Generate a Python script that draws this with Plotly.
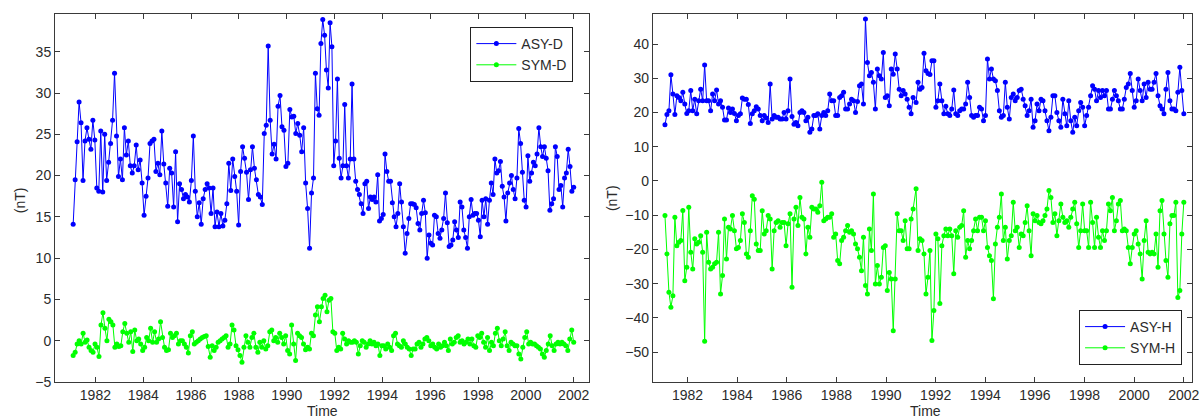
import numpy as np
import plotly.graph_objects as go

# ---------------- data (monthly values) ----------------
# Left panel: ASY-D / SYM-D ; right panel: ASY-H / SYM-H
asy_d_a = [14.1, 19.5, 24.1, 28.9, 26.4, 19.4, 24.2, 25.8, 24.4, 23.2, 26.7, 24.3,
           18.5, 18.1, 25.4, 18.0, 25.0, 19.4, 21.6, 23.9, 26.7, 32.4, 24.8, 19.9, 22.0, 19.5,
           25.8, 22.5, 24.2, 21.2, 20.3, 21.2, 23.7, 20.7, 21.9, 19.1,
           15.2, 17.5, 19.7, 23.9, 24.2, 24.4, 20.5, 21.5, 20.1, 25.4, 21.4, 19.1, 16.3,
           20.9, 20.3, 16.2, 22.9, 14.4, 19.0, 18.3, 17.2, 17.7, 17.4, 16.8,
           19.4, 24.8, 18.1, 15.0, 16.7, 14.1, 17.2, 18.3, 19.0, 18.5, 15.4, 18.5,
           13.8, 15.6, 13.8, 15.4, 13.9, 14.6, 16.6, 21.5, 18.2, 22.0, 19.9, 18.1,
           14.0, 20.5, 23.5, 22.1, 20.4, 17.1, 20.7, 23.5, 20.9, 19.5, 17.7, 17.4,
           16.5, 25.1, 26.1, 35.7, 26.7, 22.6, 23.8, 22.0, 28.4, 29.7, 25.9, 25.5,
           21.1, 21.5, 28.0, 27.1, 27.2, 25.1, 26.3, 24.9, 22.9, 25.8, 19.1, 16.0,
           11.2, 17.9, 19.7]
asy_d_b = [32.4, 28.1, 27.3, 36.0, 38.9, 37.0, 32.8, 30.6, 38.5, 35.6,
           21.2, 24.2, 31.7, 22.1, 19.7, 21.2, 28.6, 21.2, 19.7, 22.0,
           31.1, 22.0, 19.3, 18.3, 17.7, 16.6, 15.4, 19.0, 19.3, 16.0,
           17.4, 17.1, 17.4, 16.8, 20.1, 14.5, 14.8, 15.3, 22.6, 20.5,
           19.3, 19.3, 16.7, 15.0, 13.8, 15.4, 19.0, 16.8, 13.8, 10.6,
           13.0, 14.8, 16.6, 16.6, 16.5, 16.1, 14.2, 13.4, 15.4, 17.0,
           15.5, 10.0, 12.8, 11.8, 11.6, 15.2, 15.0, 13.0, 12.4, 13.4,
           14.8, 17.9, 14.3, 11.4, 11.6, 12.2, 14.4, 13.4, 12.5, 16.8,
           16.2, 13.4, 12.5, 11.2, 15.0, 17.1, 15.2, 15.4, 15.4, 14.6,
           12.6, 17.0, 15.0, 17.2, 14.1, 17.0, 19.1, 17.7, 22.0, 20.3,
           20.6, 21.7, 18.7, 17.4, 14.5, 17.9, 19.1, 20.0, 18.3, 17.2,
           19.7, 25.7, 23.9, 20.4, 17.0, 16.2, 22.4, 19.3, 20.3, 21.6,
           21.2, 22.6, 25.8, 23.5, 22.3, 23.5, 22.1, 20.6, 15.8, 16.6,
           17.2, 23.5, 22.3, 18.3, 18.8, 16.2, 19.7, 20.3, 23.2, 21.1,
           18.1, 18.6]
asy_d_times = [(1981.07, 1991.12), (1991.20, 2002.0)]

sym_d_a = [-1.8, -1.4, -0.4, 0, -0.4, 0.9, -0.2, 0.1, -0.8, -1.2, -1.4,
           -0.4, -0.8, -1.9, 1.9, 3.4, 1.5, 0, 2.6, 2.3, 1.9, -0.8, -0.4,
           -0.7, -0.6, 1.1, 2.1, 0.9, -0.2, 1.1, -1.3, 1.3, 0, 0.2, -0.4,
           -1.2, -0.8, 0.4, 0, 1.5, -0.2, 1.1, -0.2, 0.2, 2.3, 0.4, -0.8,
           -1.2, -1.1, 0.9, 0.4, 0.6, 0.9, -0.4, 0, 0, -0.4, -0.8, -1.5,
           0.6, 1.1, -0.4, -0.2, 0, 0.2, 0.4, 0.5, 0.6, -0.7, -2.0, -0.6,
           -1.2, -0.8, -0.2, 0, 0.2, 0.4, 0.6, -0.8, -0.4, 1.9, 1.3, -0.6,
           -1.1, -1.8, -2.6, -0.8, 0.6, -0.2, -0.8, 0.4, 0.9, -0.8, -1.4, -0.2,
           -0.8, 0, -1.0, -0.6, 1.1, 1.3, 0, 0.4, -0.2, 0.9, 0.4, -0.4,
           0.6, -1.2, -1.6, 1.9, -0.4, -2.4, 0.9, 0.6, 0.4, -0.4, -1.1, -0.8,
           -1.0, 0.9, 0.6, 3.1, 4.1, 2.3, 4.1]
sym_d_b = [5.1, 5.5, 3.5, 4.9, 5.1, 1.1, 0.9,
           -1.2, -0.8, -1.0, 0.9, 0.2, -0.4, 0, -0.2, -0.2, 0, -0.2, -1.6,
           -0.6, 0, -0.2, -0.8, -0.4, 0, -0.4, -0.2, -0.6, -0.4, -1.8, -0.6,
           -0.6, -1.0, -0.4, -0.8, -1.2, 0.6, 0.9, -0.4, -0.6, -0.8, 0, -0.4,
           -0.8, -1.0, -1.8, -1.0, -1.0, -0.4, -0.2, -0.8, -0.4, 0.2, 0.4, 0,
           -0.6, -0.4, -0.8, -1.0, -0.4, -0.8, -0.6, -0.2, -0.6, -1.2, 0.2, -0.4,
           -0.2, 0.4, 0.6, -0.2, 0, -0.4, -0.2, 0.2, -0.4, 0.2, -0.6, -0.8,
           0.6, 0.4, 0.9, -0.2, -0.8, 0.4, -1.2, -0.2, -0.6, 0.9, 1.5, 0,
           -0.6, 0.2, 1.1, -0.6, -1.2, -0.2, -0.4, -0.6, -0.6, -1.6, -2.2, -0.8,
           0.4, 1.1, -0.4, -0.2, -0.4, -0.4, -0.6, -0.8, -1.0, -1.6, -2.0, -1.2,
           -0.4, 0.6, -0.6, -1.2, -0.4, -0.2, -0.4, -0.2, -0.4, -0.6, -1.2, 0.2, 1.3, -0.2]
sym_d_times = [(1981.07, 1991.45), (1991.52, 2002.0)]

asy_h_a = [16.4, 19.4, 20.5, 31.0, 25.4, 19.4, 24.9, 24.4, 23.4, 25.9, 22.5,
           19.7, 20.5, 26.4, 20.5, 23.9, 19.6, 23.4, 26.8, 23.4, 33.9, 23.4, 23.4,
           20.5, 25.4, 23.4, 26.6, 22.5, 23.4, 21.5, 17.8, 17.8, 21.3, 20.0, 21.0,
           19.7, 17.6, 19.1, 19.6, 24.2, 23.9, 23.9, 22.3, 16.8, 19.6, 20.5, 21.7,
           21.0, 19.1, 17.6, 19.1, 18.4, 17.1, 28.3, 18.1, 19.1, 18.6, 18.6, 18.1,
           18.1, 20.0, 18.1, 20.5, 29.8, 18.8, 16.6, 17.1, 16.1, 20.0, 20.5, 20.0,
           17.6, 18.6, 14.2, 15.2, 19.1, 19.1, 19.6, 15.2, 19.1, 20.0, 19.1, 20.5,
           25.4, 23.4, 23.4, 19.1, 19.1, 24.4, 24.9, 25.9, 21.0, 21.0, 22.5, 23.9,
           23.4, 20.0, 23.2, 27.8, 28.3, 22.5, 47.3, 34.6, 30.7, 31.7, 28.8, 21.0,
           32.7, 30.7, 29.8, 37.5, 24.4, 24.9, 22.0, 32.7, 31.2, 37.1, 32.7, 26.8,
           24.9, 26.4, 25.4, 23.9, 21.5, 19.6, 24.4]
asy_h_b = [22.9, 28.8, 26.8, 27.3, 37.3, 32.2, 31.4, 31.1, 35.1, 35.1,
           21.5, 23.4, 28.3, 23.4, 19.6, 21.8, 19.6, 19.1, 21.0, 26.6,
           19.6, 19.1, 20.5, 21.0, 21.0, 22.5, 28.8, 24.4, 19.1, 18.6,
           19.1, 19.1, 21.5, 21.0, 17.6, 19.1, 35.6, 29.8, 32.7, 29.8,
           29.3, 26.4, 20.5, 18.6, 19.1, 28.8, 21.5, 18.1, 24.4, 25.4,
           23.4, 24.4, 26.4, 26.8, 23.9, 22.0, 19.1, 20.5, 23.9, 15.7,
           17.6, 22.5, 20.5, 23.9, 23.4, 20.5, 17.6, 14.7, 18.6, 24.9,
           24.9, 20.0, 17.6, 15.7, 23.9, 19.6, 16.1, 23.4, 17.6, 14.2,
           18.6, 16.1, 20.5, 22.9, 21.5, 16.1, 19.1, 21.5, 24.9, 27.8,
           26.8, 23.4, 26.4, 24.4, 26.4, 24.9, 26.4, 21.0, 21.0, 23.9,
           26.4, 24.9, 23.4, 21.0, 21.0, 23.9, 27.3, 28.3, 31.4, 26.4,
           21.5, 23.4, 29.8, 26.4, 23.4, 28.3, 24.4, 28.8, 26.8, 26.8,
           28.8, 31.4, 24.9, 22.0, 21.0, 19.6, 26.8, 31.7, 23.4, 21.0,
           21.0, 20.5, 25.9, 33.2, 26.4, 19.6]
asy_h_times = [(1981.09, 1991.09), (1991.21, 2002.0)]

sym_h_a = [-10.1, -21.3, -32.5, -36.9, -33.5, -10.6, -18.9, -17.9, -17.4, -8.6, -29.1,
           -25.2, -7.7, -20.8, -25.7, -16.9, -18.4, -17.9, -16.0, -20.8, -46.8, -15.0, -23.7,
           -25.7, -25.2, -24.2, -23.7, -15.0, -33.0, -27.6, -11.1, -22.8, -13.5, -14.0, -10.1,
           -14.5, -19.8, -19.4, -17.4, -9.6, -12.1, -21.3, -22.3, -14.5, -4.3, -5.3, -18.4,
           -20.3, -20.3, -8.7, -15.5, -14.5, -10.1, -11.1, -25.7, -14.5, -12.1, -11.6, -13.5,
           -12.1, -12.1, -18.9, -12.5, -9.6, -31.0, -11.1, -7.7, -13.0, -4.8, -10.6, -11.1,
           -21.3, -13.5, -16.4, -7.7, -8.2, -8.2, -9.1, -7.2, -0.4, -11.6, -11.1, -10.6,
           -10.6, -9.6, -16.4, -15.5, -23.2, -24.2, -17.4, -16.4, -14.5, -13.0, -15.0, -14.5,
           -15.5, -18.4, -19.8, -22.3, -26.2, -16.4, -30.5, -33.0, -14.0, -20.3, -3.8, -30.1,
           -24.7, -30.1, -28.1, -19.4, -18.9, -32.0, -26.7, -28.6, -43.7, -28.6, -9.6, -14.5,
           -14.5, -17.4, -11.6, -19.8, -19.8, -11.1, -8.2]
sym_h_b = [-2.3, -20.3, -16.9, -17.4, -21.3, -33.0, -28.1, -20.3, -46.6, -37.8,
           -15.5, -16.9, -35.8, -18.9, -16.0, -14.0, -16.0, -14.0, -16.0, -27.1,
           -14.5, -16.4, -13.5, -13.0, -8.7, -22.3, -17.4, -19.8, -17.4, -14.5,
           -11.1, -14.5, -10.6, -10.6, -14.5, -11.6, -19.4, -21.8, -23.2, -34.4,
           -18.4, -13.5, -10.6, -3.8, -17.4, -13.5, -22.8, -17.4, -16.0, -6.2,
           -14.5, -13.5, -19.4, -15.5, -16.0, -12.1, -7.2, -14.5, -21.8, -9.6,
           -11.6, -10.1, -12.1, -12.5, -11.6, -10.1, -8.2, -2.8, -4.8, -12.1,
           -9.6, -16.0, -11.6, -6.7, -10.6, -12.1, -11.6, -13.5, -10.6, -8.2,
           -6.2, -12.5, -19.4, -14.5, -6.7, -14.5, -14.5, -19.4, -6.2, -12.1,
           -19.4, -10.6, -16.4, -19.4, -14.5, -17.4, -14.5, -6.7, -8.7, -4.8,
           -14.5, -11.6, -6.7, -5.7, -14.5, -14.0, -14.5, -19.4, -24.2, -19.4,
           -15.5, -14.5, -18.4, -21.3, -28.6, -17.4, -11.6, -20.8, -21.3, -20.8,
           -21.3, -15.5, -25.2, -8.7, -5.7, -15.5, -23.2, -28.1, -12.5, -10.1,
           -10.1, -6.2, -34.0, -32.0, -15.5, -6.2]
sym_h_times = [(1981.09, 1991.09), (1991.21, 2002.0)]

year_ticks = [1982, 1984, 1986, 1988, 1990, 1992, 1994, 1996, 1998, 2000, 2002]
left_yticks = [-5, 0, 5, 10, 15, 20, 25, 30, 35]
right_yticks = [-50, -40, -30, -20, -10, 0, 10, 20, 30, 40]


def series(parts, times):
    t = np.concatenate([np.linspace(a, b, len(p)) for p, (a, b) in zip(parts, times)])
    v = np.concatenate([np.asarray(p, dtype=float) for p in parts])
    return t, v


BLUE = "#0000FF"
GREEN = "#00FF00"
FONT = "Liberation Sans, Arial, sans-serif"
TXT = "#2b2b2b"
AX = "#3a3a3a"
FS = 14

fig = go.Figure()


def add(parts, times, name, color, xa, ya, legend):
    t, v = series(parts, times)
    fig.add_trace(go.Scatter(
        x=t, y=v, name=name, mode="lines+markers",
        line=dict(color=color, width=1),
        marker=dict(color=color, size=5, symbol="circle"),
        xaxis=xa, yaxis=ya, legend=legend))


add([asy_d_a, asy_d_b], asy_d_times, "ASY-D", BLUE, "x", "y", "legend")
add([sym_d_a, sym_d_b], sym_d_times, "SYM-D", GREEN, "x", "y", "legend")
add([asy_h_a, asy_h_b], asy_h_times, "ASY-H", BLUE, "x2", "y2", "legend2")
add([sym_h_a, sym_h_b], sym_h_times, "SYM-H", GREEN, "x2", "y2", "legend2")

W, H = 1200, 419
ML, MR, MT, MB = 55, 0, 14, 37
PW = W - ML - MR
PH = H - MT - MB


def px(x):
    return (x - ML) / PW


def py(y):
    return 1 - (y - MT) / PH


axis_common = dict(
    showline=True, linecolor=AX, linewidth=1, mirror="ticks",
    ticks="inside", ticklen=5, tickcolor=AX, tickwidth=1,
    showgrid=False, zeroline=False,
    tickfont=dict(family=FONT, size=FS, color=TXT),
    ticklabeloverflow="allow",
)

fig.update_layout(
    width=W, height=H,
    margin=dict(l=ML, r=MR, t=MT, b=MB, pad=0),
    paper_bgcolor="white", plot_bgcolor="white",
    font=dict(family=FONT, size=FS, color=TXT),
    xaxis=dict(domain=[0, px(593)], range=[1980.31, 2002.65], tickvals=year_ticks,
               anchor="y", **axis_common),
    yaxis=dict(domain=[0, 1], range=[-5, 39.57], tickvals=left_yticks,
               anchor="x", **axis_common),
    xaxis2=dict(domain=[px(657), 1.0], range=[1980.6, 2002.33], tickvals=year_ticks,
                anchor="y2", **axis_common),
    yaxis2=dict(domain=[0, 1], range=[-58.7, 48.76], tickvals=right_yticks,
                anchor="x2", **axis_common),
    legend=dict(x=px(577), y=py(27), xanchor="right", yanchor="top",
                bgcolor="white", bordercolor="#222", borderwidth=1,
                font=dict(family=FONT, size=FS, color=TXT),
                tracegroupgap=0, itemwidth=40),
    legend2=dict(x=px(1190), y=py(365), xanchor="right", yanchor="bottom",
                 bgcolor="white", bordercolor="#222", borderwidth=1,
                 font=dict(family=FONT, size=FS, color=TXT),
                 tracegroupgap=0, itemwidth=40),
    showlegend=True,
    annotations=[
        dict(text="(nT)", x=px(20), y=py(200), xref="paper", yref="paper",
             textangle=-90, showarrow=False, xanchor="center", yanchor="middle",
             font=dict(family=FONT, size=FS, color=TXT)),
        dict(text="(nT)", x=px(616), y=py(198), xref="paper", yref="paper",
             textangle=-90, showarrow=False, xanchor="center", yanchor="middle",
             font=dict(family=FONT, size=FS, color=TXT)),
        dict(text="Time", x=px(324), y=py(411), xref="paper", yref="paper",
             showarrow=False, xanchor="center", yanchor="middle",
             font=dict(family=FONT, size=FS, color=TXT)),
        dict(text="Time", x=px(932), y=py(411), xref="paper", yref="paper",
             showarrow=False, xanchor="center", yanchor="middle",
             font=dict(family=FONT, size=FS, color=TXT)),
    ],
)

fig.write_html("out.html")
